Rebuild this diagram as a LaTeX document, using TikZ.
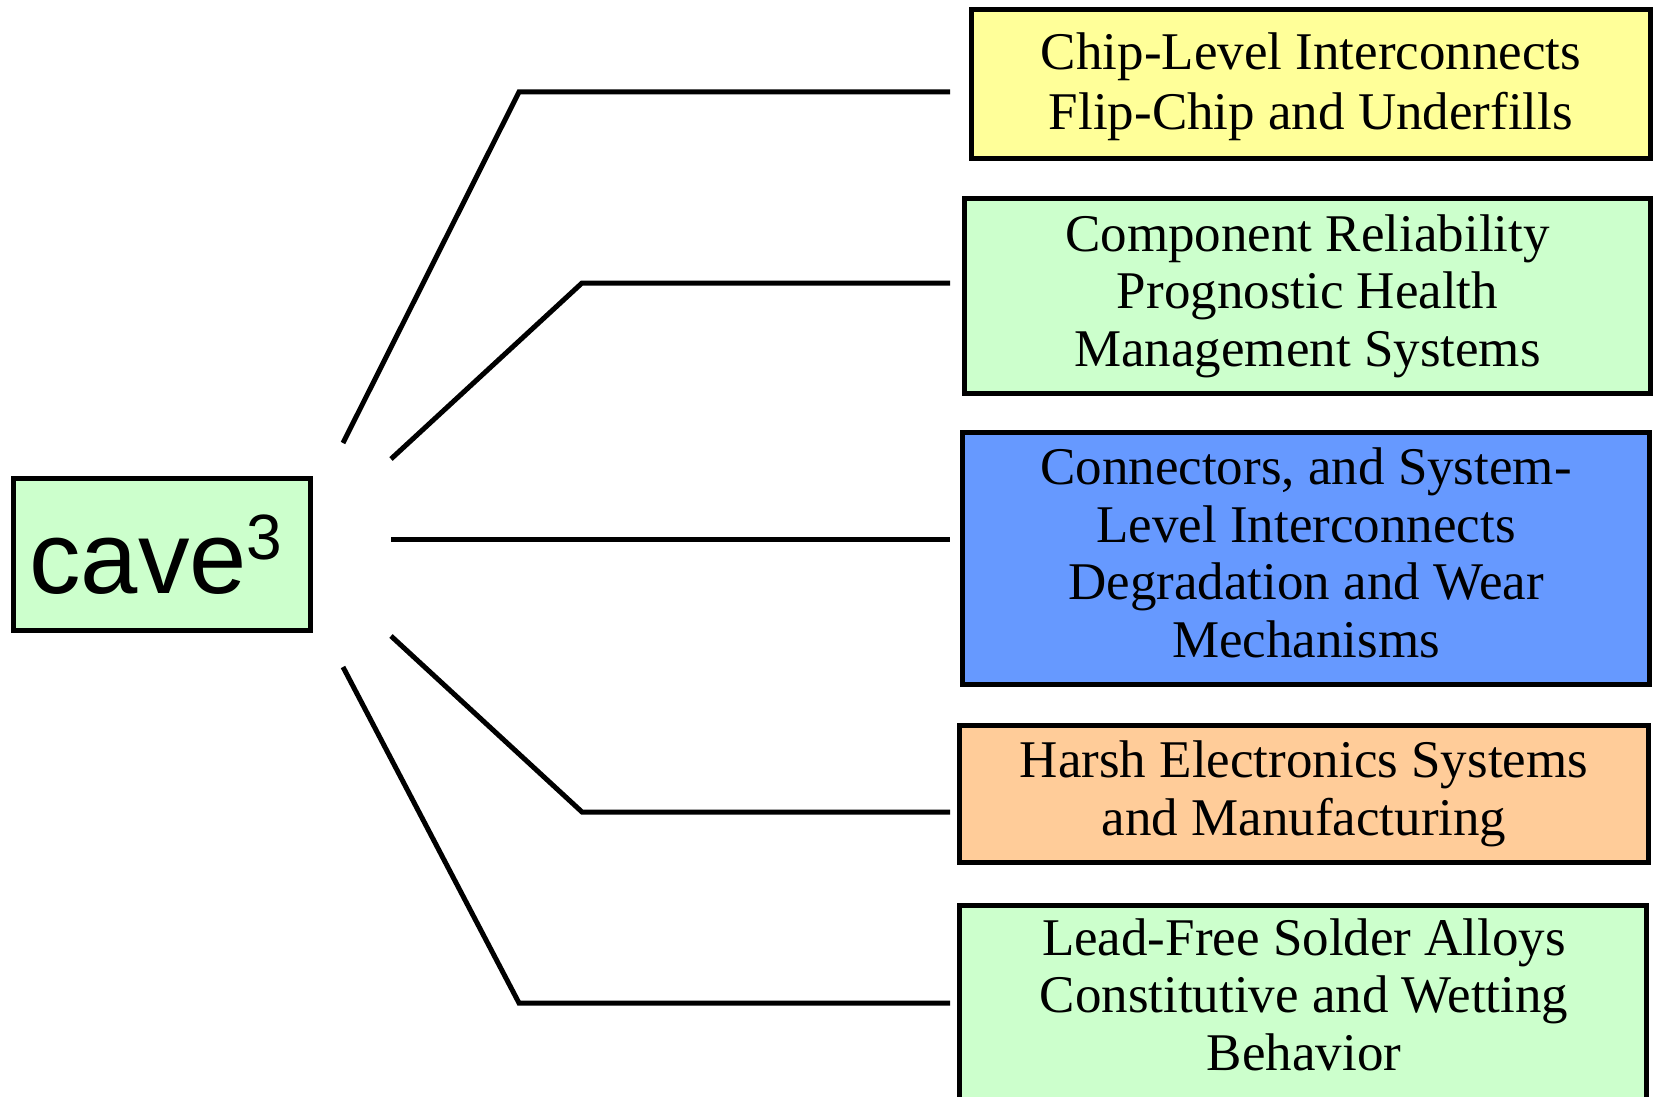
\documentclass[tikz,border=0pt]{standalone}
\usepackage{fontspec}
\setmainfont{Liberation Serif}
\newfontfamily\hubfont{Liberation Sans}
\definecolor{chipyellow}{HTML}{FFFF99}
\definecolor{palegreen}{HTML}{CCFFCC}
\definecolor{connblue}{HTML}{6699FF}
\definecolor{harshorange}{HTML}{FFCC99}
% depth-only strut so a last line without descenders sits like the others
\newcommand\lowstrut{\rule[-0.22em]{0pt}{0.22em}}
% height-only strut that leaves a little extra room above a first line
\newcommand\highstrut{\rule{0pt}{21pt}}

\begin{document}
\begin{tikzpicture}[x=0.5pt,y=-0.5pt,
  boxline/.style={draw=black, line width=2.5pt, inner sep=0pt},
  topic/.style={boxline, align=center,
    font=\fontsize{26.5pt}{28.75pt}\selectfont},
  topictext/.style={align=center, inner sep=0pt,
    font=\fontsize{26.5pt}{28.75pt}\selectfont},
  link/.style={draw=black, line width=2.5pt, line cap=butt}]
\useasboundingbox (0,0) rectangle (1655,1097);
\clip (0,0) rectangle (1655,1097);

% central hub
\node[boxline, fill=palegreen, minimum width=148.5pt, minimum height=76pt,
  font=\hubfont\fontsize{51.5pt}{58pt}\selectfont] (hub) at (162,554.5)
  {cave\raisebox{17pt}{\fontsize{32pt}{36pt}\selectfont 3}\kern6pt};

% topic boxes
\node[topic, fill=chipyellow, minimum width=339.5pt, minimum height=74.5pt,
  font=\fontsize{26.5pt}{30pt}\selectfont] (b1) at (1311,84)
  {\highstrut Chip-Level Interconnects\\Flip-Chip and Underfills};
\node[topic, fill=palegreen, minimum width=343pt, minimum height=97.5pt]
  (b2) at (1307.5,296)
  {Component Reliability\\Prognostic Health\\Management Systems};
\node[topic, fill=connblue, minimum width=343.5pt, minimum height=126pt]
  (b3) at (1306,558.5)
  {Connectors, and System-\\Level Interconnects\\Degradation and Wear\\Mechanisms\lowstrut};
\node[topic, fill=harshorange, minimum width=344.5pt, minimum height=68.5pt]
  (b4) at (1304,794)
  {Harsh Electronics Systems\\and Manufacturing};
\node[boxline, fill=palegreen, minimum width=343.5pt, minimum height=130pt,
  anchor=north] (b5) at (1303,902.5) {};
\node[topictext, anchor=north] (t5) at (1304,918)
  {Lead-Free Solder Alloys\\Constitutive and Wetting\\Behavior};

% branch points
\coordinate (s1) at (343,443);  \coordinate (k1) at (519,92);   \coordinate (e1) at (950,92);
\coordinate (s2) at (391,459);  \coordinate (k2) at (582,283);  \coordinate (e2) at (950,283);
\coordinate (s3) at (391,539);                                  \coordinate (e3) at (950,539);
\coordinate (s4) at (391,636);  \coordinate (k4) at (582,812);  \coordinate (e4) at (950,812);
\coordinate (s5) at (343,667);  \coordinate (k5) at (519,1003); \coordinate (e5) at (950,1003);

% branches
\draw[link] (s1) -- (k1) -- (e1);
\draw[link] (s2) -- (k2) -- (e2);
\draw[link] (s3) -- (e3);
\draw[link] (s4) -- (k4) -- (e4);
\draw[link] (s5) -- (k5) -- (e5);
\end{tikzpicture}
\end{document}
